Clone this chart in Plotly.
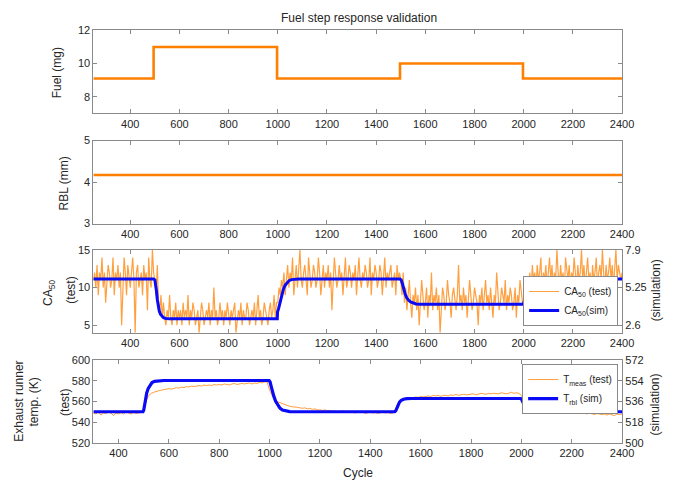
import numpy as np
import plotly.graph_objects as go

W, H = 695, 491

# ---------------- data ----------------
# Fuel command (mg): step levels, held until the next change cycle
fuel_cycles = [250, 495, 997, 1497, 1997, 2400]
fuel_mg = [9.1, 11.0, 9.1, 10.0, 9.1, 9.1]

# Runner boundary layer thickness (mm), constant
rbl_cycles = [250, 2400]
rbl_mm = [4.17, 4.17]

# CA50 measured on the test bench, one sample every 5 cycles from 250 to 2400
ca50_test_start, ca50_test_step = 250, 5
ca50_test = [
    # 250-495
    11, 12, 10, 13, 9, 12, 11, 14, 10, 12,
    8, 11, 13, 12, 10, 11, 14, 9, 12, 11,
    13, 10, 12, 5, 11, 14, 12, 9, 13, 11,
    10, 12, 14, 11, 4, 12, 13, 10, 11, 12,
    9, 13, 11, 12, 7, 14, 11, 10, 15, 12,
    # 500-995
    11, 9, 13, 8, 7, 9, 6, 8, 6, 5,
    7, 6, 9, 6, 5, 7, 6, 8, 5, 7,
    6, 7, 5, 8, 6, 7, 6, 9, 5, 7,
    6, 8, 7, 5, 6, 7, 4, 6, 8, 7,
    5, 6, 7, 6, 8, 5, 7, 6, 10, 6,
    7, 5, 6, 8, 6, 7, 5, 7, 6, 8,
    6, 5, 7, 6, 7, 8, 4, 6, 7, 6,
    8, 5, 7, 6, 6, 8, 7, 5, 6, 7,
    6, 8, 5, 7, 9, 6, 7, 5, 6, 8,
    7, 6, 5, 7, 8, 6, 7, 9, 6, 8,
    # 1000-1495
    8, 10, 9, 11, 10, 12, 9, 11, 13, 10,
    12, 11, 14, 9, 11, 13, 10, 12, 15, 11,
    10, 12, 13, 11, 9, 14, 12, 10, 11, 13,
    12, 10, 11, 14, 12, 9, 11, 13, 10, 12,
    11, 13, 10, 12, 7, 11, 14, 12, 10, 11,
    13, 11, 12, 9, 12, 14, 10, 11, 13, 12,
    10, 12, 11, 13, 9, 12, 14, 11, 10, 12,
    11, 13, 12, 10, 11, 14, 9, 12, 11, 13,
    12, 10, 11, 13, 12, 9, 11, 14, 10, 12,
    11, 12, 13, 10, 11, 12, 9, 13, 11, 12,
    # 1500-1995
    11, 9, 12, 8, 10, 7, 9, 11, 8, 6,
    9, 8, 10, 7, 9, 5, 8, 11, 9, 7,
    8, 10, 6, 9, 8, 12, 7, 9, 8, 10,
    7, 9, 4, 8, 10, 9, 7, 8, 11, 9,
    8, 6, 9, 10, 8, 7, 9, 13, 8, 9,
    7, 10, 8, 9, 6, 8, 11, 9, 7, 8,
    10, 9, 8, 5, 9, 8, 10, 7, 9, 11,
    8, 9, 7, 10, 8, 6, 9, 8, 12, 9,
    7, 8, 10, 9, 8, 11, 7, 9, 8, 10,
    9, 7, 8, 10, 6, 9, 8, 11, 9, 8,
    # 2000-2400
    8, 10, 9, 11, 10, 12, 9, 13, 11, 12,
    10, 13, 11, 12, 14, 9, 12, 11, 13, 10,
    12, 14, 11, 13, 10, 12, 11, 15, 12, 10,
    13, 11, 12, 9, 14, 12, 11, 13, 10, 12,
    11, 14, 12, 10, 13, 11, 12, 15, 11, 13,
    10, 12, 14, 11, 12, 9, 13, 11, 12, 14,
    10, 12, 13, 11, 15, 12, 10, 13, 11, 12,
    14, 11, 13, 10, 12, 15, 11, 13, 12, 11,
    12,
]

# CA50 from the simulation (right-hand scale)
ca50_sim_cycles = [250, 495, 500, 503, 506, 510, 514, 518, 523, 528, 535, 545, 560,
                   998, 999, 1003, 1008, 1013, 1018, 1023, 1030, 1038, 1046, 1055, 1068, 1085,
                   1497, 1502, 1507, 1512, 1518, 1524, 1531, 1540, 1550, 1562, 1580,
                   1997, 2000, 2004, 2009, 2015, 2021, 2028, 2036, 2045, 2056, 2070, 2400]
ca50_sim = [5.86, 5.86, 5.80, 5.55, 5.10, 4.40, 3.90, 3.60, 3.37, 3.23, 3.13, 3.08, 3.05,
            3.05, 3.55, 3.75, 4.10, 4.50, 4.85, 5.15, 5.42, 5.62, 5.74, 5.81, 5.85, 5.86,
            5.86, 5.78, 5.50, 5.10, 4.80, 4.55, 4.37, 4.24, 4.15, 4.10, 4.08,
            4.08, 4.15, 4.40, 4.75, 5.10, 5.38, 5.58, 5.72, 5.80, 5.85, 5.86, 5.86]

# Measured exhaust runner temperature (K), one sample every 10 cycles from 300
temp_test_start, temp_test_step = 300, 10
temp_test = [
    # 300-490
    549, 548, 550, 547, 549, 548.5, 550, 549, 546.5, 549,
    548, 549.5, 548, 550, 549, 548, 549.5, 548.5, 549, 549.5,
    # 500-990
    552, 561, 566, 568, 569, 570, 570.5, 571, 571.5, 572,
    572.5, 572, 573, 573.5, 573, 574, 573.5, 574.5, 574, 575,
    574.5, 575, 575.5, 575, 576, 575.5, 576, 575.5, 576.5, 576,
    576.5, 576, 577, 576.5, 576, 577, 577.5, 576.5, 577, 577.5,
    577, 577.5, 578, 577, 578, 577.5, 578.5, 578, 579, 579,
    # 1000-1490
    571, 566, 562, 560, 559, 558, 557, 556, 555.5, 555,
    555, 554.5, 554, 553.5, 554, 553, 553.5, 552.5, 553, 552,
    552, 551.5, 552, 551, 551.5, 550.5, 551, 550, 550.5, 551,
    550, 550.5, 549.5, 550, 549, 550, 549.5, 550, 548.5, 549.5,
    550, 549, 549.5, 548.5, 549, 550, 549, 549.5, 548.5, 549,
    # 1500-1990
    552, 559, 561, 562, 563, 563.5, 563, 564, 564.5, 564,
    565, 564.5, 565, 565.5, 565, 566, 565.5, 566, 565, 566,
    566, 565.5, 566.5, 566, 567, 566, 566.5, 567, 566.5, 567,
    567, 567.5, 566.5, 567, 568, 567.5, 567, 568, 567.5, 568,
    568, 567.5, 568.5, 568, 567.5, 568, 569, 568, 568.5, 568,
    # 2000-2400
    566, 561, 558, 556, 555, 554, 553.5, 553, 552.5, 552,
    551.5, 552, 551, 551.5, 550.5, 551, 550, 550.5, 550, 549.5,
    550, 549.5, 549, 549.5, 548.5, 549, 548, 549, 548.5, 547.5,
    548.5, 548, 547.5, 548, 547, 548, 547.5, 546.5, 548, 547.5,
    548,
]

# Runner temperature from the simulation (right-hand scale, K)
temp_sim_cycles = [300, 497, 500, 503, 507, 512, 518, 525, 533, 543, 557, 580,
                   998, 1002, 1006, 1011, 1017, 1024, 1032, 1041, 1051, 1064, 1080, 1100,
                   1497, 1501, 1505, 1510, 1516, 1523, 1532, 1545, 1565,
                   1997, 2001, 2005, 2010, 2016, 2023, 2032, 2043, 2058, 2080, 2400]
temp_sim = [527.2, 527.2, 528.5, 533.0, 538.5, 543.5, 547.5, 550.5, 552.5, 553.6, 554.1, 554.3,
            554.3, 553.0, 549.5, 545.0, 540.5, 536.3, 532.8, 530.3, 528.7, 527.8, 527.3, 527.2,
            527.2, 528.0, 530.5, 533.3, 535.5, 537.0, 538.0, 538.5, 538.7,
            538.7, 538.0, 536.0, 533.5, 531.3, 529.6, 528.4, 527.7, 527.3, 527.2, 527.2]

x_ticks = [400, 600, 800, 1000, 1200, 1400, 1600, 1800, 2000, 2200, 2400]

ca50_x = ca50_test_start + ca50_test_step * np.arange(len(ca50_test))
temp_x = temp_test_start + temp_test_step * np.arange(len(temp_test))

# ---------------- styling ----------------
ORANGE = "#FF8000"
BLUE = "#0A0AF5"
AXIS = "#8a8a8a"
TEXT = "#262626"
FONT = "Liberation Sans, Arial, sans-serif"


def px_x(p):
    return p / W


def px_y(p):
    return 1 - p / H


fig = go.Figure()

fig.add_trace(go.Scatter(x=fuel_cycles, y=fuel_mg, mode="lines", line_shape="hv",
                         line=dict(color=ORANGE, width=2.6), showlegend=False,
                         xaxis="x", yaxis="y"))
fig.add_trace(go.Scatter(x=rbl_cycles, y=rbl_mm, mode="lines",
                         line=dict(color=ORANGE, width=2.6), showlegend=False,
                         xaxis="x2", yaxis="y2"))
fig.add_trace(go.Scatter(x=ca50_x, y=ca50_test, mode="lines",
                         line=dict(color=ORANGE, width=1.2), opacity=0.75,
                         name="CA<sub>50</sub> (test)", legend="legend",
                         xaxis="x3", yaxis="y3"))
fig.add_trace(go.Scatter(x=ca50_sim_cycles, y=ca50_sim, mode="lines",
                         line=dict(color=BLUE, width=3),
                         name="CA<sub>50</sub>(sim)", legend="legend",
                         xaxis="x3", yaxis="y5"))
fig.add_trace(go.Scatter(x=temp_x, y=temp_test, mode="lines",
                         line=dict(color=ORANGE, width=0.9), opacity=0.85,
                         name="T<sub>meas</sub> (test)", legend="legend2",
                         xaxis="x4", yaxis="y4"))
fig.add_trace(go.Scatter(x=temp_sim_cycles, y=temp_sim, mode="lines",
                         line=dict(color=BLUE, width=3.2),
                         name="T<sub>rbl</sub> (sim)", legend="legend2",
                         xaxis="x4", yaxis="y6"))

x_dom = [px_x(95), px_x(633)]
rows = [(25, 110), (138, 223), (250, 335), (363, 448)]


def xaxis_cfg(rng, anchor):
    return dict(domain=x_dom, range=rng, anchor=anchor, tickvals=x_ticks,
                ticks="inside", ticklen=4, tickcolor=AXIS, showline=True,
                linecolor=AXIS, linewidth=1, mirror="ticks", showgrid=False,
                zeroline=False, tickfont=dict(size=11, color=TEXT, family=FONT))


def yaxis_cfg(row, rng, tickvals, anchor, mirror="ticks"):
    top, bottom = rows[row]
    return dict(domain=[px_y(bottom), px_y(top)], range=rng, anchor=anchor,
                tickvals=tickvals, ticks="inside", ticklen=4, tickcolor=AXIS,
                showline=True, linecolor=AXIS, linewidth=1, mirror=mirror,
                showgrid=False, zeroline=False,
                tickfont=dict(size=11, color=TEXT, family=FONT))


layout = dict(
    width=W, height=H, autosize=False,
    margin=dict(l=0, r=0, t=0, b=0),
    paper_bgcolor="white", plot_bgcolor="white",
    font=dict(family=FONT, size=11, color=TEXT),
    xaxis=xaxis_cfg([250, 2400], "y"),
    xaxis2=xaxis_cfg([250, 2400], "y2"),
    xaxis3=xaxis_cfg([250, 2400], "y3"),
    xaxis4=xaxis_cfg([300, 2400], "y4"),
    yaxis=yaxis_cfg(0, [7, 12], [8, 10, 12], "x"),
    yaxis2=yaxis_cfg(1, [3, 5], [3, 4, 5], "x2"),
    yaxis3=yaxis_cfg(2, [4, 15], [5, 10, 15], "x3", mirror=True),
    yaxis4=yaxis_cfg(3, [520, 600], [520, 540, 560, 580, 600], "x4", mirror=True),
)
layout["yaxis5"] = dict(yaxis_cfg(2, [2.07, 7.9], [2.6, 5.25, 7.9], "x3", mirror=False),
                        overlaying="y3", side="right",
                        ticktext=["2.6", "5.25", "7.9"])
layout["yaxis6"] = dict(yaxis_cfg(3, [500, 572], [500, 518, 536, 554, 572], "x4", mirror=False),
                        overlaying="y4", side="right")

legend_common = dict(bgcolor="white", bordercolor=AXIS, borderwidth=1,
                     font=dict(size=10, color=TEXT, family=FONT),
                     itemwidth=30, tracegroupgap=0, xanchor="right",
                     traceorder="normal")
layout["legend"] = dict(legend_common, x=px_x(629), y=px_y(328), yanchor="bottom")
layout["legend2"] = dict(legend_common, x=px_x(629), y=px_y(367), yanchor="top")

annotations = [
    dict(text="Fuel step response validation", x=px_x(365), y=px_y(12)),
    dict(text="Fuel (mg)", x=px_x(58), y=px_y(68), textangle=-90),
    dict(text="RBL (mm)", x=px_x(65), y=px_y(182), textangle=-90),
    dict(text="CA<sub>50</sub>", x=px_x(50), y=px_y(294), textangle=-90),
    dict(text="(test)", x=px_x(72), y=px_y(291), textangle=-90),
    dict(text="(simulation)", x=px_x(667), y=px_y(291), textangle=-90),
    dict(text="Exhaust runner", x=px_x(19), y=px_y(405), textangle=-90),
    dict(text="temp. (K)", x=px_x(35), y=px_y(406), textangle=-90),
    dict(text="(test)", x=px_x(66), y=px_y(406), textangle=-90),
    dict(text="(simulation)", x=px_x(667), y=px_y(408), textangle=-90),
    dict(text="Cycle", x=px_x(364), y=px_y(479)),
]
for a in annotations:
    a.update(xref="paper", yref="paper", showarrow=False,
             xanchor="center", yanchor="middle",
             font=dict(size=12, color=TEXT, family=FONT))
layout["annotations"] = annotations

fig.update_layout(**layout)
fig.write_html("out.html")
